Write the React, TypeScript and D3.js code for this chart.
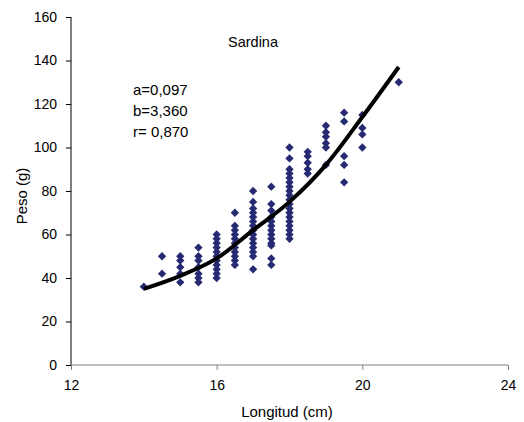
import { useEffect, useRef } from "react";
import * as d3 from "d3";

// Longitudes (cm) de cada columna de puntos
const lengths = [14, 14.5, 15, 15.5, 16, 16.5, 17, 17.5, 18, 18.5, 19, 19.5, 20, 21];

// Pesos (g) observados en cada longitud
const weights = [
  [36],
  [50, 42],
  [50, 48, 45, 42, 38],
  [54, 50, 48, 45, 42, 40, 38],
  [60, 58, 56, 54, 52, 50, 48, 46, 44, 42, 40],
  [70, 64, 62, 60, 58, 56, 54, 52, 50, 48, 46],
  [80, 75, 72, 70, 68, 66, 64, 62, 60, 58, 56, 54, 52, 50, 44],
  [82, 74, 71, 68, 66, 64, 62, 60, 58, 56, 55, 49, 46],
  [100, 95, 90, 88, 86, 84, 82, 80, 78, 76, 74, 72, 70, 68, 66, 64, 62, 60, 58],
  [98, 96, 93, 90, 88],
  [110, 107, 105, 102, 100, 92],
  [116, 112, 96, 92, 84],
  [115, 109, 106, 100],
  [130],
];

// Curva ajustada
const fitLengths = [14, 15, 16, 17, 18, 19, 20, 21];
const fitWeights = [35, 41, 49, 62, 75, 92, 114, 137];

const xTicks = [12, 16, 20, 24];
const yTicks = [0, 20, 40, 60, 80, 100, 120, 140, 160];
const params = ["a=0,097", "b=3,360", "r= 0,870"];

const App = () => {
  const ref = useRef<SVGSVGElement>(null);

  useEffect(() => {
    if (!ref.current) return;
    const svg = d3.select(ref.current);
    svg.selectAll("*").remove();

    const font = "'Liberation Sans', Arial, sans-serif";
    const x = d3.scaleLinear().domain([12, 24]).range([71, 508]);
    const y = d3.scaleLinear().domain([0, 160]).range([365, 17]);

    // eje Y
    const yAxis = svg
      .append("g")
      .attr("transform", "translate(71,0)")
      .call(d3.axisLeft(y).tickValues(yTicks).tickSize(5).tickPadding(9));
    yAxis.select(".domain").attr("stroke", "#000").attr("d", "M0,17V365");
    yAxis.selectAll("text").style("font-family", font).style("font-size", "14px").attr("fill", "#000");

    // eje X
    const xAxis = svg
      .append("g")
      .attr("transform", "translate(0,365)")
      .call(d3.axisBottom(x).tickValues(xTicks).tickSize(5).tickPadding(10));
    xAxis.select(".domain").attr("stroke", "#808080").attr("d", "M71,0H508");
    xAxis.selectAll("line").attr("stroke", "#808080");
    xAxis.selectAll("text").style("font-family", font).style("font-size", "14px").attr("fill", "#000");

    // puntos
    const pts = lengths.flatMap((l, i) => weights[i].map((w) => ({ l, w })));
    const diamond = d3.symbol().type(d3.symbolDiamond2).size(44);
    svg
      .append("g")
      .selectAll("path")
      .data(pts)
      .enter()
      .append("path")
      .attr("d", diamond)
      .attr("transform", (d) => `translate(${x(d.l)},${y(d.w)})`)
      .attr("fill", "#262a72");

    // curva
    const line = d3
      .line<number>()
      .x((d) => x(d))
      .y((_, i) => y(fitWeights[i]))
      .curve(d3.curveMonotoneX);
    svg
      .append("path")
      .attr("d", line(fitLengths))
      .attr("fill", "none")
      .attr("stroke", "#000")
      .attr("stroke-width", 4);

    // textos
    svg
      .append("text")
      .attr("x", 253)
      .attr("y", 47)
      .attr("text-anchor", "middle")
      .style("font-family", font)
      .style("font-size", "14.5px")
      .text("Sardina");

    svg
      .append("g")
      .selectAll("text")
      .data(params)
      .enter()
      .append("text")
      .attr("x", 133)
      .attr("y", (_, i) => 95 + i * 21)
      .style("font-family", font)
      .style("font-size", "15px")
      .text((d) => d);

    svg
      .append("text")
      .attr("x", 287)
      .attr("y", 417)
      .attr("text-anchor", "middle")
      .style("font-family", font)
      .style("font-size", "15px")
      .text("Longitud (cm)");

    svg
      .append("text")
      .attr("transform", "translate(27,196) rotate(-90)")
      .attr("text-anchor", "middle")
      .style("font-family", font)
      .style("font-size", "15px")
      .text("Peso (g)");
  }, []);

  return (
    <svg
      ref={ref}
      width={524}
      height={422}
      style={{ position: "absolute", left: 0, top: 0, background: "#fff" }}
    />
  );
};

export default App;
